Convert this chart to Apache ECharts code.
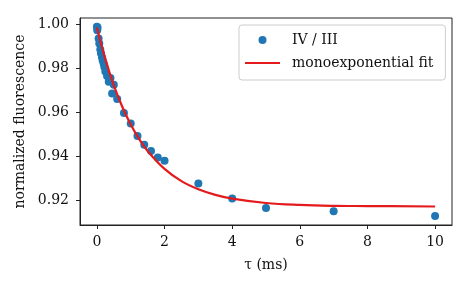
<!DOCTYPE html>
<html>
<head>
<meta charset="utf-8">
<script src="https://cdn.jsdelivr.net/npm/echarts@6/dist/echarts.min.js"></script>
<style>html,body{margin:0;padding:0;background:#fff}#c{width:469px;height:293px}</style>
</head>
<body>
<div id="c"></div>
<script>
var tau = [0, 0.01, 0.02, 0.05, 0.07, 0.1, 0.12, 0.15, 0.17, 0.2, 0.22, 0.25, 0.3, 0.35, 0.4, 0.45, 0.5, 0.6, 0.8, 1.0, 1.2, 1.4, 1.6, 1.8, 2.0, 3, 4, 5, 7, 10];
var ratio = [0.9988, 0.9972, 0.9985, 0.9935, 0.9912, 0.9885, 0.9868, 0.985, 0.9835, 0.982, 0.9805, 0.9785, 0.9765, 0.9738, 0.9755, 0.9685, 0.9725, 0.966, 0.9597, 0.9549, 0.9492, 0.9452, 0.9424, 0.9395, 0.938, 0.9276, 0.9208, 0.9165, 0.9151, 0.9129];
var fitX = [0, 0.25, 0.5, 0.75, 1, 1.25, 1.5, 2, 2.5, 3, 3.5, 4, 5, 6, 7, 8, 10];
var fitY = [0.9985, 0.9841, 0.9722, 0.9625, 0.9544, 0.9478, 0.9424, 0.9343, 0.9287, 0.925, 0.9225, 0.9208, 0.9188, 0.9179, 0.9175, 0.9174, 0.9172];
var xTicks = [0, 2, 4, 6, 8, 10];
var yTicks = [0.92, 0.94, 0.96, 0.98, 1.00];
var seriesNames = ['IV / III', 'monoexponential fit'];

var font = 'DejaVu Serif';
var chart = echarts.init(document.getElementById('c'), null, {renderer: 'canvas'});
chart.setOption({
  animation: false,
  backgroundColor: '#fff',
  textStyle: {fontFamily: font},
  grid: {left: 80, top: 18, right: 17, bottom: 68, show: true, borderColor: '#222', borderWidth: 1, backgroundColor: 'transparent'},
  legend: {
    left: 239, top: 25, orient: 'vertical',
    backgroundColor: '#fff', borderColor: '#ccc', borderWidth: 1, borderRadius: 3,
    padding: [8, 12, 10, 6], itemGap: 9, itemWidth: 35, itemHeight: 8,
    textStyle: {fontFamily: font, fontSize: 14, color: '#111', padding: [0, 0, 0, 7]},
    data: [
      {name: seriesNames[0], icon: 'circle'},
      {name: seriesNames[1], icon: 'path://M0,0 M0,3 L35,3 L35,5 L0,5 Z M35,8', itemStyle: {color: '#e41a1c'}}
    ]
  },
  xAxis: {
    type: 'value', min: -0.5, max: 10.5,
    name: 'τ (ms)', nameLocation: 'middle', nameGap: 33,
    nameTextStyle: {fontFamily: font, fontSize: 14, color: '#111'},
    axisLine: {show: true, onZero: false, lineStyle: {color: '#222', width: 1}},
    axisTick: {show: true, inside: false, length: 4, customValues: xTicks, lineStyle: {color: '#222'}},
    axisLabel: {customValues: xTicks, fontFamily: font, fontSize: 14, color: '#111', margin: 10},
    splitLine: {show: false}
  },
  yAxis: {
    type: 'value', min: 0.9088, max: 1.0028,
    name: 'normalized fluorescence', nameLocation: 'middle', nameGap: 49,
    nameTextStyle: {fontFamily: font, fontSize: 14, color: '#111'},
    axisLine: {show: true, onZero: false, lineStyle: {color: '#222', width: 1}},
    axisTick: {show: true, inside: false, length: 4, customValues: yTicks, lineStyle: {color: '#222'}},
    axisLabel: {customValues: yTicks, fontFamily: font, fontSize: 14, color: '#111', margin: 11,
      formatter: function (v) { return v.toFixed(2); }},
    splitLine: {show: false}
  },
  series: [
    {
      name: seriesNames[0], type: 'scatter', symbol: 'circle', symbolSize: 8,
      itemStyle: {color: '#1f77b4', opacity: 1},
      data: tau.map(function (t, i) { return [t, ratio[i]]; })
    },
    {
      name: seriesNames[1], type: 'line', smooth: 0.4, showSymbol: false, symbol: 'none',
      lineStyle: {color: '#e41a1c', width: 2.2},
      itemStyle: {color: '#e41a1c'},
      data: fitX.map(function (t, i) { return [t, fitY[i]]; })
    }
  ]
});
</script>
</body>
</html>
